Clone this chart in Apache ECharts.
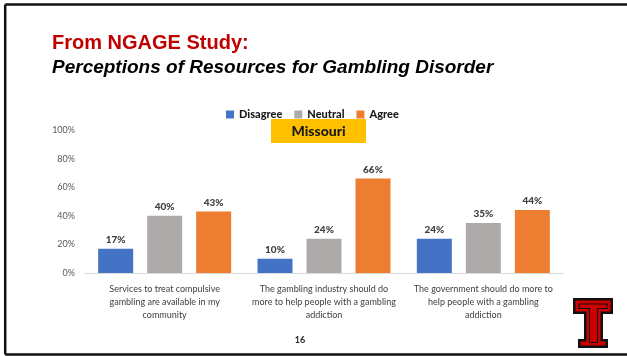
<!DOCTYPE html>
<html>
<head>
<meta charset="utf-8">
<script src="https://cdn.jsdelivr.net/npm/echarts@6/dist/echarts.min.js"></script>
<style>
  html, body { margin: 0; padding: 0; background: #fff; }
  #chart { width: 627px; height: 356px; }
</style>
</head>
<body>
<div id="chart"></div>
<script>
// Survey statements (category axis)
var categories = [
  'Services to treat compulsive\ngambling are available in my\ncommunity',
  'The gambling industry should do\nmore to help people with a gambling\naddiction',
  'The government should do more to\nhelp people with a gambling\naddiction'
];
// Response shares, percent
var disagree = [17, 10, 24];
var neutral = [40, 24, 35];
var agree = [43, 66, 44];
// Value axis ticks
var yTicks = [0, 20, 40, 60, 80, 100];

var titleFont = "'Liberation Sans', Arial, sans-serif";
var bodyFont = "Lato, 'Liberation Sans', sans-serif";

var chart = echarts.init(document.getElementById('chart'), null, { renderer: 'canvas' });

function barSeries(name, data, color) {
  return {
    name: name,
    type: 'bar',
    data: data,
    barWidth: 35,
    barGap: '40%',
    itemStyle: { color: color },
    label: {
      show: true,
      position: 'top',
      distance: 4,
      formatter: '{c}%',
      fontFamily: bodyFont,
      fontWeight: 900,
      fontSize: 10,
      color: '#404040'
    }
  };
}

var option = {
  backgroundColor: '#ffffff',
  animation: false,
  grid: { left: 85, right: 64, top: 130, bottom: 83 },
  legend: {
    left: 221,
    top: 104,
    itemWidth: 8,
    itemHeight: 8,
    itemGap: 12,
    icon: 'rect',
    textStyle: { fontFamily: bodyFont, fontWeight: 900, fontSize: 11, color: '#1a1a1a' },
    data: ['Disagree', 'Neutral', 'Agree']
  },
  xAxis: {
    type: 'category',
    data: categories,
    axisLine: { lineStyle: { color: '#D9D9D9', width: 1 } },
    axisTick: { show: false },
    axisLabel: {
      interval: 0,
      margin: 10,
      fontFamily: bodyFont,
      fontSize: 9,
      lineHeight: 13,
      color: '#404040'
    }
  },
  yAxis: {
    type: 'value',
    min: yTicks[0],
    max: yTicks[yTicks.length - 1],
    interval: yTicks[1] - yTicks[0],
    axisLine: { show: false },
    axisTick: { show: false },
    splitLine: { show: false },
    axisLabel: {
      margin: 10,
      formatter: '{value}%',
      fontFamily: bodyFont,
      fontSize: 9,
      color: '#595959'
    }
  },
  series: [
    barSeries('Disagree', disagree, '#4472C4'),
    barSeries('Neutral', neutral, '#AEAAAA'),
    barSeries('Agree', agree, '#ED7D31')
  ],
  graphic: [
    // slide frame
    { type: 'line', shape: { x1: 5.2, y1: 4.5, x2: 627, y2: 4.5 }, style: { stroke: '#111', lineWidth: 2.5 } },
    { type: 'line', shape: { x1: 5.2, y1: 4.5, x2: 5.2, y2: 354.5 }, style: { stroke: '#111', lineWidth: 2.5 } },
    { type: 'line', shape: { x1: 5.2, y1: 354.5, x2: 627, y2: 354.5 }, style: { stroke: '#111', lineWidth: 2.5 } },
    // headings
    { type: 'text', x: 52, y: 43, style: { text: 'From NGAGE Study:', fill: '#C00000', font: 'bold 20px ' + titleFont, verticalAlign: 'middle' } },
    { type: 'text', x: 52, y: 67.5, style: { text: 'Perceptions of Resources for Gambling Disorder', fill: '#000000', font: 'italic bold 19px ' + titleFont, verticalAlign: 'middle' } },
    // region tag
    { type: 'rect', shape: { x: 271, y: 119, width: 95, height: 24 }, style: { fill: '#FFC000' } },
    { type: 'text', x: 318.5, y: 131, style: { text: 'Missouri', fill: '#1a1a1a', font: '900 14px ' + bodyFont, align: 'center', verticalAlign: 'middle' } },
    // page number
    { type: 'text', x: 300, y: 340, style: { text: '16', fill: '#262626', font: 'bold 9px ' + bodyFont, align: 'center', verticalAlign: 'middle' } },
    // double-T emblem
    { type: 'polygon', shape: { points: [[573,298],[613,298],[613,314],[603,314],[603,339],[608,339],[608,348],[578,348],[578,339],[584,339],[584,314],[573,314]] }, style: { fill: '#111' } },
    { type: 'polygon', shape: { points: [[575.5,300.5],[610.5,300.5],[610.5,311.5],[600.5,311.5],[600.5,341.5],[605.5,341.5],[605.5,345.5],[580.5,345.5],[580.5,341.5],[586.5,341.5],[586.5,311.5],[575.5,311.5]] }, style: { fill: '#D00000' } },
    { type: 'polygon', shape: { points: [[579,304],[607,304],[607,308.5],[597.5,308.5],[597.5,342.5],[589.5,342.5],[589.5,308.5],[579,308.5]] }, style: { fill: 'none', stroke: '#111', lineWidth: 1.2 } }
  ]
};

chart.setOption(option);
</script>
</body>
</html>
